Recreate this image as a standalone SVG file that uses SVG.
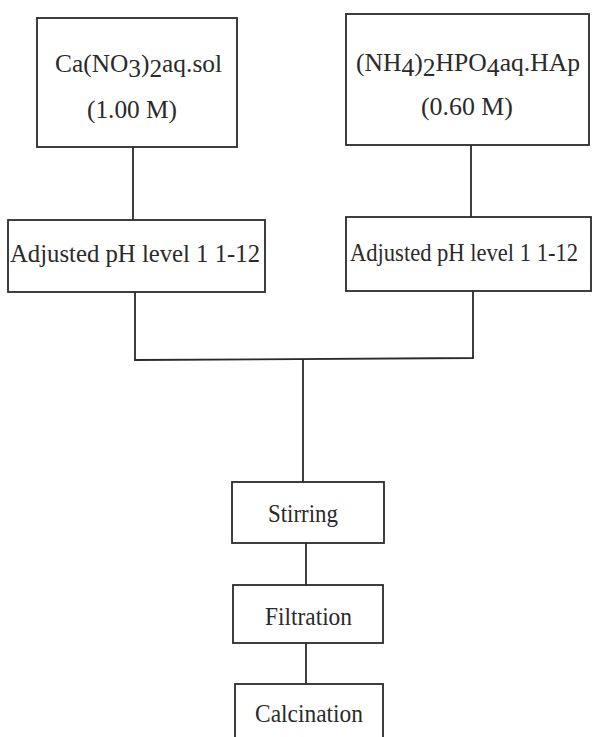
<svg xmlns="http://www.w3.org/2000/svg" width="593" height="737" viewBox="0 0 593 737">
<style>
.box{fill:#fff;stroke:#2a2a2a;stroke-width:1.8}
.ln{fill:none;stroke:#2a2a2a;stroke-width:1.8}
text{font-family:"Liberation Serif","Times New Roman",serif;font-size:25px;fill:#2a2a2a}
</style>
<rect width="593" height="737" fill="#fff"/>
<g id="connectors">
<path class="ln" d="M133 147V220"/>
<path class="ln" d="M471 145V217"/>
<path class="ln" d="M135 292V360L473 358V290"/>
<path class="ln" d="M303 359V482"/>
<path class="ln" d="M306 543V585"/>
<path class="ln" d="M306 643V684"/>
</g>
<g id="ca-sol">
<rect class="box" x="37" y="18" width="200" height="129"/>
<text x="55" y="72" textLength="167" lengthAdjust="spacingAndGlyphs">Ca(NO<tspan dy="5">3</tspan><tspan dy="-5">)</tspan><tspan dy="5">2</tspan><tspan dy="-5">aq.sol</tspan></text>
<text x="87" y="118" textLength="90" lengthAdjust="spacingAndGlyphs">(1.00 M)</text>
</g>
<g id="nh4-sol">
<rect class="box" x="346" y="14" width="243" height="131"/>
<text x="356" y="71" textLength="224" lengthAdjust="spacingAndGlyphs">(NH<tspan dy="5">4</tspan><tspan dy="-5">)</tspan><tspan dy="5">2</tspan><tspan dy="-5">HPO</tspan><tspan dy="5">4</tspan><tspan dy="-5">aq.HAp</tspan></text>
<text x="421" y="115" textLength="92" lengthAdjust="spacingAndGlyphs">(0.60 M)</text>
</g>
<g id="ph-left">
<rect class="box" x="8" y="220" width="257" height="72"/>
<text x="10" y="262" textLength="250" lengthAdjust="spacingAndGlyphs">Adjusted pH level 1 1-12</text>
</g>
<g id="ph-right">
<rect class="box" x="346" y="217" width="245" height="74"/>
<text x="350" y="261" font-size="22" textLength="228" lengthAdjust="spacingAndGlyphs">Adjusted pH level 1 1-12</text>
</g>
<g id="stirring">
<rect class="box" x="232" y="482" width="152" height="61"/>
<text x="268" y="522" textLength="70" lengthAdjust="spacingAndGlyphs">Stirring</text>
</g>
<g id="filtration">
<rect class="box" x="233" y="585" width="150" height="58"/>
<text x="265" y="625" textLength="87" lengthAdjust="spacingAndGlyphs">Filtration</text>
</g>
<g id="calcination">
<rect class="box" x="235" y="684" width="148" height="60"/>
<text x="255" y="722" textLength="108" lengthAdjust="spacingAndGlyphs">Calcination</text>
</g>
</svg>
